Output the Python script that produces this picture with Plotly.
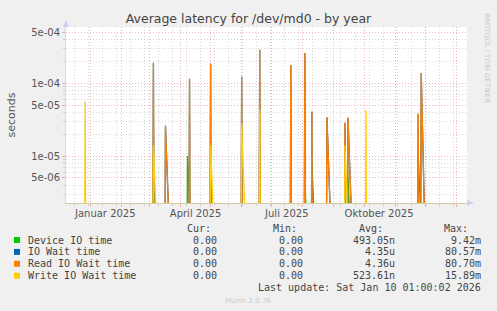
import pandas as pd
import plotly.graph_objects as go

# ---------------- data ----------------
start_day = "2024-12-01"
end_day = "2026-01-15"

device_dates = ["2025-03-05", "2025-04-08", "2025-05-01", "2025-06-01", "2025-08-03",
                "2025-08-10", "2025-09-15", "2025-11-24"]
device_vals = [4.0e-6, 1.0e-5, 5.0e-6, 3.0e-6, 6.0e-6, 8.0e-6, 5.0e-6, 1.1e-5]

iowait_dates = ["2025-03-05", "2025-03-17", "2025-04-10", "2025-05-01", "2025-06-01",
                "2025-06-19", "2025-07-20", "2025-08-03", "2025-08-10", "2025-08-25",
                "2025-09-12", "2025-09-15", "2025-11-24", "2025-11-27"]
iowait_vals = [1.91e-4, 2.6e-5, 1.15e-4, 1.85e-4, 1.22e-4, 2.86e-4, 1.78e-4, 2.6e-4,
               4.05e-5, 3.4e-5, 2.86e-5, 3.35e-5, 3.8e-5, 1.38e-4]

read_dates = ["2025-03-05", "2025-03-17", "2025-04-10", "2025-05-01", "2025-06-01",
              "2025-06-19", "2025-07-20", "2025-08-03", "2025-08-10", "2025-08-25",
              "2025-09-12", "2025-09-15", "2025-11-24", "2025-11-27"]
read_vals = [1.91e-4, 2.6e-5, 1.15e-4, 1.85e-4, 1.22e-4, 2.86e-4, 1.78e-4, 2.6e-4,
             4.05e-5, 3.4e-5, 2.86e-5, 3.35e-5, 3.8e-5, 1.38e-4]

write_dates = ["2024-12-27", "2025-03-05", "2025-05-01", "2025-06-01", "2025-06-19",
               "2025-09-12", "2025-10-03"]
write_vals = [5.6e-5, 1.4e-5, 1.4e-5, 2.8e-5, 4.3e-5, 1.4e-5, 4.2e-5]

series_names = ["Device IO time", "IO Wait time", "Read IO Wait time", "Write IO Wait time"]
series_colors = ["#00CC00", "#0066B3", "#FF8000", "#FFCC00"]
cur_vals = ["0.00", "0.00", "0.00", "0.00"]
min_vals = ["0.00", "0.00", "0.00", "0.00"]
avg_vals = ["493.05n", "4.35u", "4.36u", "523.61n"]
max_vals = ["9.42m", "80.57m", "80.70m", "15.89m"]

y_tick_vals = [5e-6, 1e-5, 5e-5, 1e-4, 5e-4]
y_tick_text = ["5e-06", "1e-05", "5e-05", "1e-04", "5e-04"]
y_minor_vals = [3e-6, 4e-6, 6e-6, 7e-6, 8e-6, 9e-6, 2e-5, 3e-5, 4e-5, 6e-5, 7e-5,
                8e-5, 9e-5, 2e-4, 3e-4, 4e-4]
x_major_dates = ["2025-01-01", "2025-02-01", "2025-03-01", "2025-04-01", "2025-05-01",
                 "2025-06-01", "2025-07-01", "2025-08-01", "2025-09-01", "2025-10-01",
                 "2025-11-01", "2025-12-01", "2026-01-01"]
x_minor_dates = ["2024-12-16", "2024-12-30", "2025-01-13", "2025-01-27", "2025-02-10",
                 "2025-02-24", "2025-03-10", "2025-03-24", "2025-04-07", "2025-04-21",
                 "2025-05-05", "2025-05-19", "2025-06-02", "2025-06-16", "2025-06-30",
                 "2025-07-14", "2025-07-28", "2025-08-11", "2025-08-25", "2025-09-08",
                 "2025-09-22", "2025-10-06", "2025-10-20", "2025-11-03", "2025-11-17",
                 "2025-12-01", "2025-12-15", "2025-12-29"]
x_label_dates = ["2025-01-16", "2025-04-16", "2025-07-16", "2025-10-16"]
x_label_text = ["Januar 2025", "April 2025", "Juli 2025", "Oktober 2025"]

title_text = "Average latency for /dev/md0 - by year"
last_update = "Last update: Sat Jan 10 01:00:02 2026"
munin_text = "Munin 2.0.76"
rrd_text = "RRDTOOL / TOBI OETIKER"

# ---------------- build daily series ----------------
days = pd.date_range(start_day, end_day, freq="D")
FLOOR = 1e-8  # zero values drawn below the visible log range


def daily(dates, vals):
    s = pd.Series(0.0, index=days)
    for d, v in zip(dates, vals):
        s[pd.Timestamp(d)] = v
    return s.where(s > 0, FLOOR)


all_series = [daily(device_dates, device_vals), daily(iowait_dates, iowait_vals),
              daily(read_dates, read_vals), daily(write_dates, write_vals)]

# ---------------- geometry ----------------
W, H = 497, 311
L, R, T, B = 66, 467, 27, 203


def px(x):
    return (x - L) / (R - L)


def py(y):
    return (B - y) / (B - T)


fig = go.Figure()
for s, name, col in zip(all_series, series_names, series_colors):
    fig.add_trace(go.Scatter(x=s.index, y=s.values, mode="lines", name=name,
                             line=dict(color=col, width=1.3), showlegend=False,
                             hoverinfo="skip"))

# invisible trace to activate xaxis2 for month labels
fig.add_trace(go.Scatter(x=[x_label_dates[0]], y=[1e-3], xaxis="x2", yaxis="y",
                         mode="markers", marker=dict(opacity=0), showlegend=False,
                         hoverinfo="skip"))

xrange = ["2024-12-07 20:00", "2026-01-11 16:00"]
red = "rgba(230,120,120,0.55)"
grey = "rgba(175,175,175,0.5)"
dots = "1px,2px"
font_main = "DejaVu Sans"
mono = "DejaVu Sans Mono"

fig.update_layout(
    width=W, height=H,
    margin=dict(l=L, r=W - R, t=T, b=H - B, pad=0, autoexpand=False),
    paper_bgcolor="#F0F0F0", plot_bgcolor="#FFFFFF",
    title=dict(text=title_text, x=0.5, xref="container", xanchor="center",
               y=1 - 19 / H, yref="container", yanchor="middle",
               font=dict(family=font_main, size=12.5, color="#444444")),
    xaxis=dict(type="date", range=xrange, showticklabels=False, automargin=False,
               tickmode="array", tickvals=x_major_dates,
               showgrid=True, gridcolor=red, griddash=dots, gridwidth=1,
               ticks="outside", ticklen=3, tickcolor=red,
               minor=dict(tickmode="array", tickvals=x_minor_dates, showgrid=True,
                          gridcolor=grey, griddash=dots, gridwidth=1,
                          ticks="outside", ticklen=2, tickcolor=grey),
               showline=True, linecolor="#d6cc9c", linewidth=1, zeroline=False,
               fixedrange=True),
    xaxis2=dict(type="date", range=xrange, overlaying="x", side="bottom", anchor="y",
                tickmode="array", tickvals=x_label_dates, ticktext=x_label_text,
                showgrid=False, ticks="", showline=False, zeroline=False,
                automargin=False,
                tickfont=dict(family=font_main, size=10, color="#555555"),
                ticklabelstandoff=3),
    yaxis=dict(type="log", range=[-5.644, -3.23], automargin=False,
               tickmode="array", tickvals=y_tick_vals, ticktext=y_tick_text,
               tickfont=dict(family=font_main, size=10, color="#555555"),
               showgrid=True, gridcolor=red, griddash=dots, gridwidth=1,
               ticks="outside", ticklen=3, tickcolor=red,
               minor=dict(tickmode="array", tickvals=y_minor_vals, showgrid=True,
                          gridcolor=grey, griddash=dots, gridwidth=1,
                          ticks="outside", ticklen=2, tickcolor=grey),
               showline=True, linecolor="#d4d8f4", linewidth=1, zeroline=False,
               title=dict(text="seconds", standoff=13,
                          font=dict(family=font_main, size=11, color="#555555")),
               fixedrange=True),
)

shapes = []
# axis arrows
arrow_col = "#c8d0f4"
shapes.append(dict(type="path", xref="paper", yref="paper", line=dict(width=0),
                   fillcolor=arrow_col,
                   path=f"M {px(63)} {py(27)} L {px(69)} {py(27)} L {px(66)} {py(20)} Z"))
shapes.append(dict(type="path", xref="paper", yref="paper", line=dict(width=0),
                   fillcolor=arrow_col,
                   path=f"M {px(467)} {py(200)} L {px(467)} {py(206)} L {px(474)} {py(203)} Z"))

annotations = []
# legend header
header_y = 228.3
for txt, xr in zip(["Cur:", "Min:", "Avg:", "Max:"], [213, 299, 385, 470]):
    annotations.append(dict(text=txt, x=px(xr), y=py(header_y), xref="paper", yref="paper",
                            xanchor="right", yanchor="middle", showarrow=False,
                            font=dict(family=mono, size=10, color="#444444")))
row_ys = [240, 251.9, 263.8, 275.7]
for i, (name, col) in enumerate(zip(series_names, series_colors)):
    yy = row_ys[i]
    shapes.append(dict(type="rect", xref="paper", yref="paper",
                       x0=px(14), x1=px(20), y0=py(yy + 3), y1=py(yy - 3),
                       fillcolor=col, line=dict(width=0)))
    annotations.append(dict(text=name, x=px(26), y=py(yy), xref="paper", yref="paper",
                            xanchor="left", yanchor="middle", showarrow=False,
                            font=dict(family=mono, size=10, color="#444444")))
    for val, xr in zip([cur_vals[i], min_vals[i], avg_vals[i], max_vals[i]],
                       [219, 305, 397.3, 482.7]):
        annotations.append(dict(text=val, x=px(xr), y=py(yy), xref="paper", yref="paper",
                                xanchor="right", yanchor="middle", showarrow=False,
                                font=dict(family=mono, size=10, color="#444444")))
annotations.append(dict(text=last_update, x=px(482.7), y=py(287.7), xref="paper",
                        yref="paper", xanchor="right", yanchor="middle", showarrow=False,
                        font=dict(family=mono, size=10, color="#444444")))
annotations.append(dict(text=munin_text, x=px(248), y=py(300.5), xref="paper",
                        yref="paper", xanchor="center", yanchor="middle", showarrow=False,
                        font=dict(family=font_main, size=7, color="#c8c8c8")))
annotations.append(dict(text=rrd_text, x=px(487), y=py(58), xref="paper", yref="paper",
                        xanchor="center", yanchor="middle", showarrow=False, textangle=90,
                        font=dict(family=font_main, size=7, color="#c8c8c8")))

fig.update_layout(shapes=shapes, annotations=annotations)
fig.write_html("out.html")
